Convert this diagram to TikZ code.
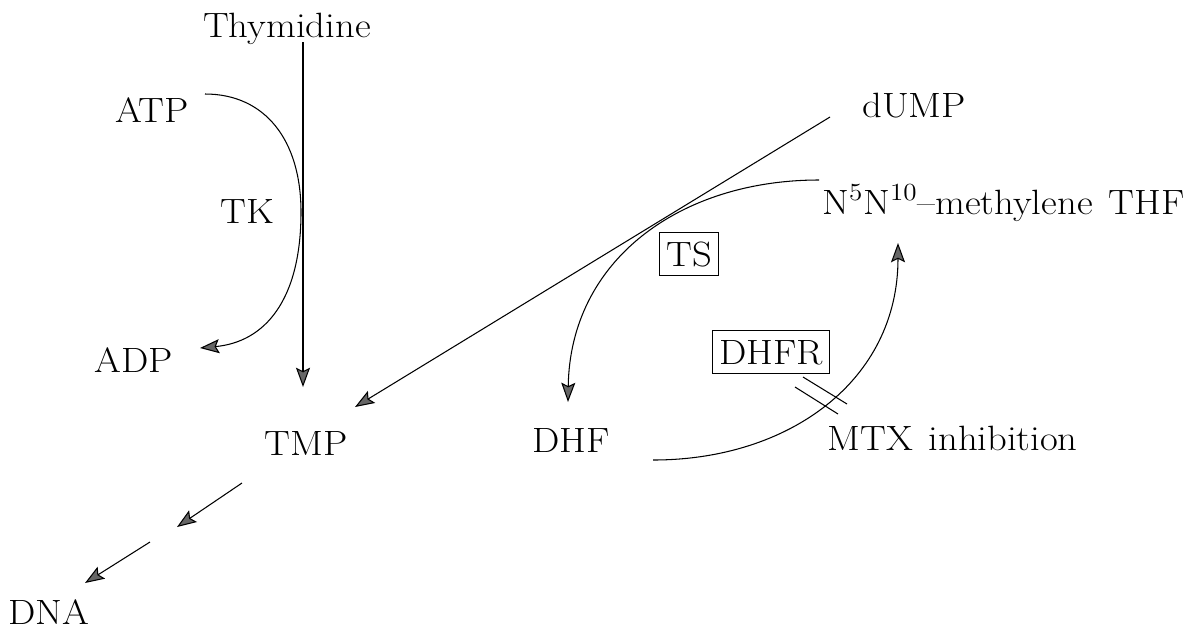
\documentclass[tikz,border=0pt]{standalone}
\usepackage{fontspec}
\setmainfont{Latin Modern Roman}[FakeStretch=1.1]
\usetikzlibrary{arrows.meta}
\begin{document}
\begin{tikzpicture}[x=0.02cm,y=-0.02cm,
  lbl/.style={inner sep=0pt, font=\fontsize{20}{24}\selectfont},
  enz/.style={draw, line width=0.6pt, inner xsep=4pt, inner ysep=5pt, text height=14pt, text depth=0pt, font=\fontsize{20}{24}\selectfont},
  conn/.style={line width=0.6pt},
  arr/.style={conn, -{Stealth[length=11pt,width=8pt,inset=2pt,fill=black!60]}},
  ]
\useasboundingbox (0,0) rectangle (1189,630);
% labels
\node[lbl, anchor=base] (thy) at (287,37) {Thymidine};
\node[lbl, anchor=base] (atp) at (152,122) {ATP};
\node[lbl, anchor=base] (tk) at (247,223) {TK};
\node[lbl, anchor=base] (adp) at (134,372) {ADP};
\node[lbl, anchor=base] (tmp) at (306,455) {TMP};
\node[lbl, anchor=base] (dna) at (49,624) {DNA};
\node[lbl, anchor=base] (dhf) at (571,452) {DHF};
\node[lbl, anchor=base west] (mtx) at (827,450) {MTX\hspace{0.45em}inhibition};
\node[lbl, anchor=base west] (dump) at (862,117) {dUMP};
\node[lbl, anchor=base west] (thf) at (822,214) {N\textsuperscript{5}N\textsuperscript{10}--methylene\hspace{0.45em}THF};
\node[enz] (ts) at (689,254) {TS};
\node[enz] (dhfr) at (771,352) {DHFR};
% connector end points
\coordinate (thyS) at (303,42);
\coordinate (tmpN) at (303,387);
\coordinate (atpE) at (205,94);
\coordinate (tkC) at (301,212);
\coordinate (adpE) at (200,348);
\coordinate (dumpE) at (830,117);
\coordinate (tmpE) at (355,407);
\coordinate (thfE) at (819,180);
\coordinate (dhfN) at (568,402);
\coordinate (dhfE) at (653,460);
\coordinate (thfS) at (898,243);
\coordinate (tmpS) at (242,483);
\coordinate (mid1) at (177,527);
\coordinate (mid2) at (150,542);
\coordinate (dnaN) at (85,583);
\coordinate (ia1) at (795,387);
\coordinate (ia2) at (838,414);
\coordinate (ib1) at (803,377);
\coordinate (ib2) at (847,404);
% connectors
\draw[arr] (thyS) -- (tmpN);
\draw[arr] (atpE) .. controls (265,94) and (301,140) .. (tkC)
  .. controls (301,300) and (265,342) .. (adpE);
\draw[arr] (dumpE) -- (tmpE);
\draw[arr] (thfE) .. controls (680,180) and (570,260) .. (dhfN);
\draw[arr] (dhfE) .. controls (790,460) and (898,380) .. (thfS);
\draw[arr] (tmpS) -- (mid1);
\draw[arr] (mid2) -- (dnaN);
\draw[conn] (ia1) -- (ia2);
\draw[conn] (ib1) -- (ib2);
\end{tikzpicture}
\end{document}
